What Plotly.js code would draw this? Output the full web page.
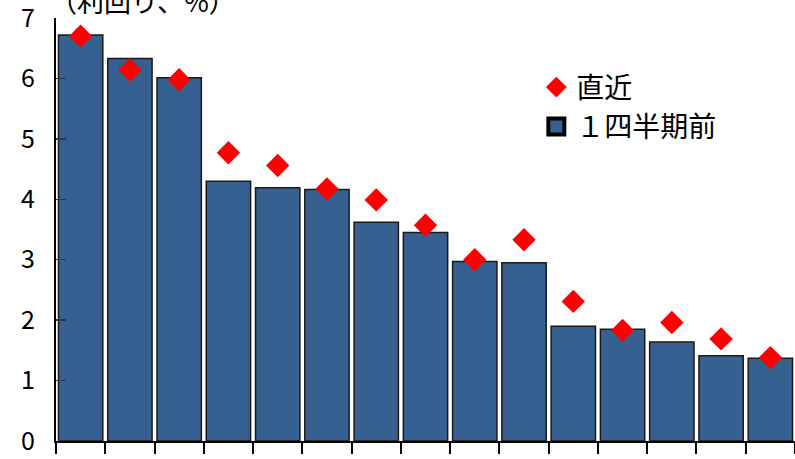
<!DOCTYPE html>
<html>
<head>
<meta charset="utf-8">
<script src="https://cdn.plot.ly/plotly-3.0.1.min.js"></script>
<style>
  html, body { margin: 0; padding: 0; background: #fff; }
  #chart { width: 795px; height: 459px; }
</style>
</head>
<body>
<div id="chart"></div>
<script>
// Issuers ranked by yield (15 categories, no visible labels)
const categories = ['1','2','3','4','5','6','7','8','9','10','11','12','13','14','15'];
// Yield one quarter earlier (%), drawn as bars
const prevQuarter = [6.72, 6.33, 6.01, 4.30, 4.19, 4.16, 3.62, 3.45, 2.97, 2.95, 1.90, 1.85, 1.64, 1.41, 1.37];
// Latest yield (%), drawn as diamonds
const latest = [6.70, 6.14, 5.98, 4.77, 4.56, 4.17, 3.99, 3.57, 3.00, 3.33, 2.31, 1.83, 1.96, 1.69, 1.38];
const yTicks = [0, 1, 2, 3, 4, 5, 6, 7];

const FONT = '"Noto Sans CJK JP", "Noto Sans", sans-serif';
const BAR_BLUE = '#36608f';

const traces = [
  {
    type: 'bar', x: categories, y: prevQuarter, showlegend: false,
    marker: { color: BAR_BLUE, line: { color: '#1a1a1a', width: 1.5 } },
    hoverinfo: 'y'
  },
  {
    // legend entry for the bars (larger outlined square)
    type: 'scatter', mode: 'markers', x: [null], y: [null], name: '１四半期前',
    marker: { symbol: 'square', size: 18, color: BAR_BLUE, line: { color: '#000', width: 4 } }
  },
  {
    type: 'scatter', mode: 'markers', x: categories, y: latest, name: '直近',
    marker: { symbol: 'diamond', size: 18, color: '#ff0000', line: { width: 0 } },
    hoverinfo: 'y'
  }
];

const layout = {
  width: 795, height: 459,
  margin: { l: 56, r: 0, t: 17.5, b: 18, pad: 0 },
  paper_bgcolor: '#fff', plot_bgcolor: '#fff',
  font: { family: FONT, size: 25, color: '#000' },
  bargap: 0.1,
  showlegend: true,
  legend: {
    x: 0.65, y: 0.895, xanchor: 'left', yanchor: 'top',
    traceorder: 'reversed', bgcolor: 'rgba(0,0,0,0)',
    font: { family: FONT, size: 28, color: '#000' },
    itemsizing: 'trace', tracegroupgap: 0
  },
  xaxis: {
    type: 'category', range: [-0.5, 14.5],
    showline: true, linecolor: '#000', linewidth: 2,
    ticks: 'outside', tickson: 'boundaries', ticklen: 11, tickwidth: 2, tickcolor: '#000',
    showticklabels: false, showgrid: false, zeroline: false, fixedrange: true
  },
  yaxis: {
    range: [0, 7], tickvals: yTicks, ticktext: yTicks.map(String),
    showline: true, linecolor: '#000', linewidth: 2,
    ticks: 'inside', ticklen: 10, tickwidth: 1.5, tickcolor: '#333',
    ticklabeloverflow: 'allow', ticklabelstandoff: 14,
    showgrid: false, zeroline: false, fixedrange: true,
    tickfont: { family: FONT, size: 25, color: '#000' }
  },
  annotations: [{
    text: '（利回り、%）', xref: 'paper', yref: 'paper',
    x: 0.118, y: 1, xanchor: 'center', yanchor: 'bottom', yshift: -4,
    showarrow: false, font: { family: FONT, size: 27, color: '#000' }
  }]
};

Plotly.newPlot('chart', traces, layout, { displayModeBar: false, staticPlot: true });
</script>
</body>
</html>
